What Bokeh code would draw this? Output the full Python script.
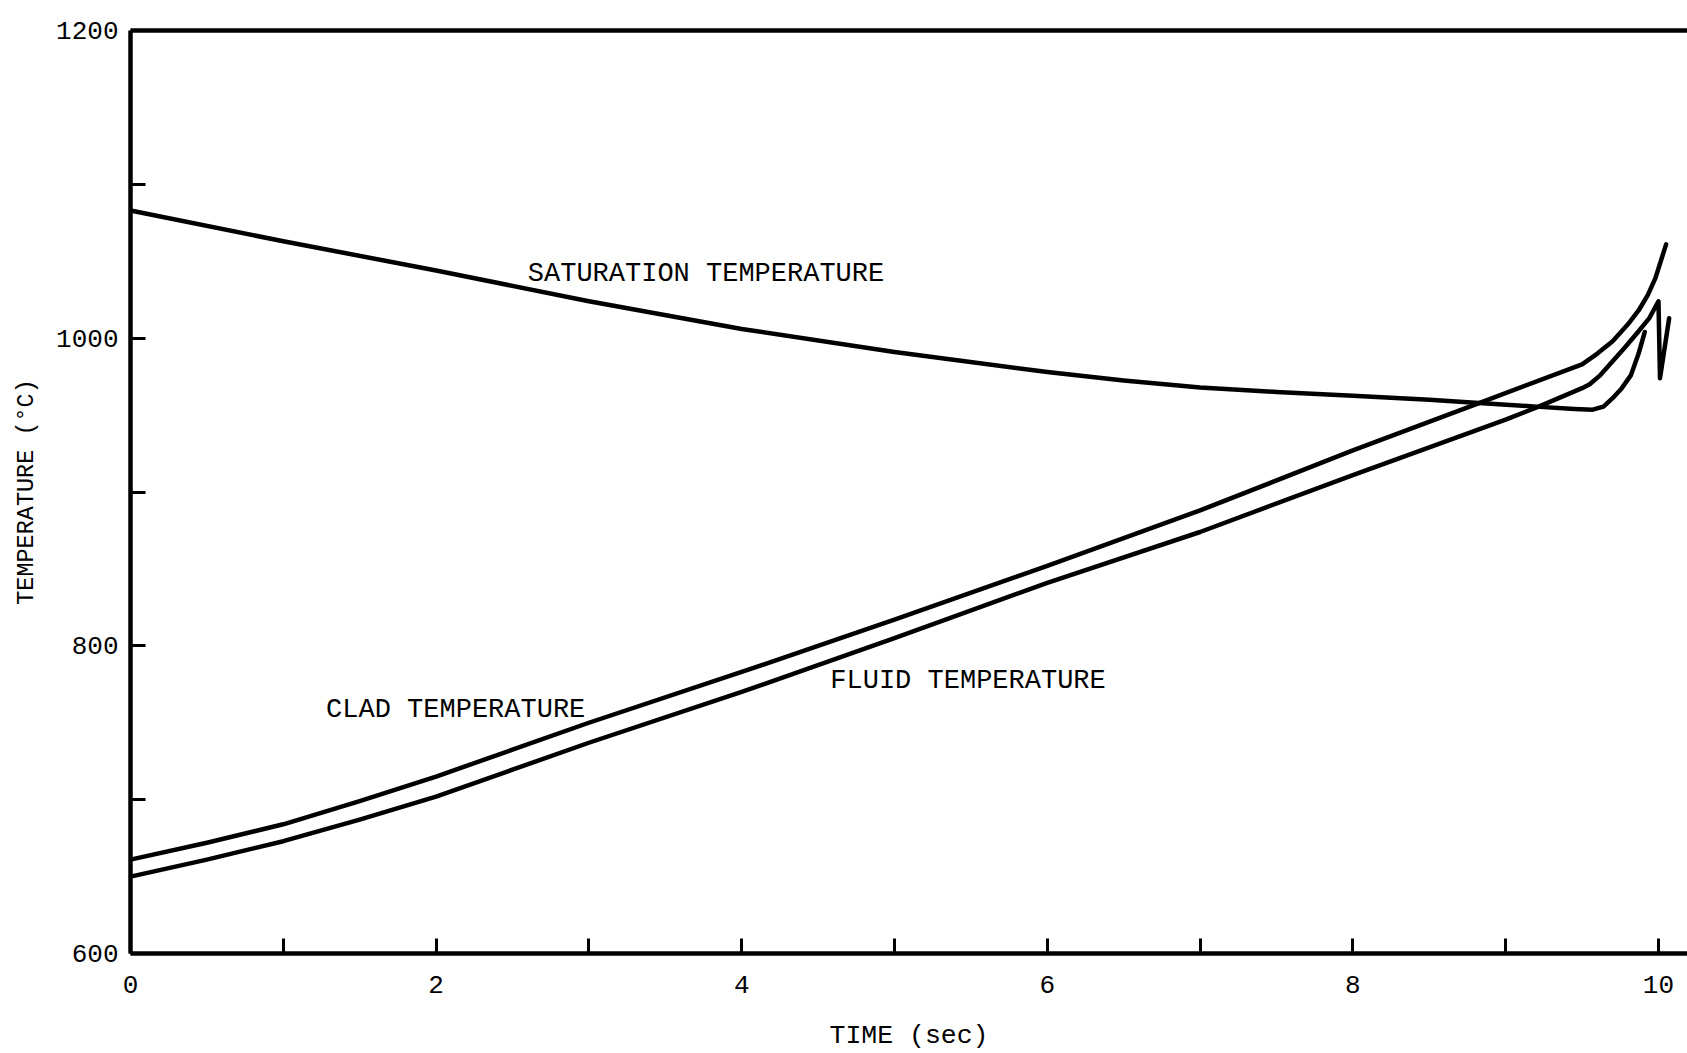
from bokeh.plotting import figure
from bokeh.models import Range1d, LinearAxis, FixedTicker, Label
from bokeh.embed import file_html
from bokeh.resources import INLINE

# Saturation temperature (deg C) versus time (s)
time_sat = [0.0, 1.0, 2.0, 3.0, 4.0, 5.0, 6.0, 6.5, 7.0, 7.5, 8.0, 8.5, 8.8, 9.2,
            9.45, 9.57, 9.64, 9.70, 9.76, 9.82, 9.87, 9.91]
sat_temp = [1083, 1063, 1044, 1024, 1006, 991, 978, 972.5, 968, 965, 962.5, 960, 958,
            955.5, 954, 953.5, 955.5, 961, 967.5, 976, 990, 1004]

# Clad temperature (deg C)
time_clad = [0.0, 0.5, 1.0, 1.5, 2.0, 2.5, 3.0, 4.0, 5.0, 6.0, 7.0, 8.0, 8.83,
             9.5, 9.6, 9.7, 9.8, 9.87, 9.93, 9.98, 10.05]
clad_temp = [661, 672, 684, 699, 715, 732.5, 750, 783, 817, 852, 888, 927, 958,
             983, 990, 998, 1009, 1018, 1028, 1039, 1061]

# Fluid temperature (deg C)
time_fluid = [0.0, 0.5, 1.0, 1.5, 2.0, 2.5, 3.0, 4.0, 5.0, 6.0, 7.0, 8.0, 9.0,
              9.22, 9.5, 9.55, 9.62, 9.70, 9.78, 9.87, 9.94, 10.0, 10.01, 10.07]
fluid_temp = [650, 661, 673, 687, 702, 719.5, 737, 770, 805, 841, 874, 911, 947,
              955.7, 967.5, 970, 976, 985, 994, 1004.5, 1013, 1024, 974, 1013]

x_ticks = [0, 2, 4, 6, 8, 10]
x_minor_ticks = [1, 3, 5, 7, 9]
y_ticks = [600, 800, 1000, 1200]
y_minor_ticks = [700, 900, 1100]

MONO = "Liberation Mono"
INK = "#000000"
LW = 4.5

p = figure(width=1687, height=1053,
           x_range=Range1d(0, 10.19), y_range=Range1d(600, 1200),
           output_backend="svg", toolbar_location=None,
           min_border_left=130, min_border_right=0,
           min_border_top=30, min_border_bottom=100,
           background_fill_color="white", border_fill_color="white")
p.grid.visible = False
p.outline_line_color = None

for ax, ticks, minor in ((p.xaxis[0], x_ticks, x_minor_ticks),
                         (p.yaxis[0], y_ticks, y_minor_ticks)):
    ax.ticker = FixedTicker(ticks=ticks, minor_ticks=minor)
    ax.axis_line_width = LW
    ax.axis_line_color = INK
    ax.major_tick_in = 15
    ax.major_tick_out = 0
    ax.minor_tick_in = 15
    ax.minor_tick_out = 0
    ax.major_tick_line_width = 3
    ax.minor_tick_line_width = 3
    ax.major_tick_line_color = INK
    ax.minor_tick_line_color = INK
    ax.major_label_text_font = MONO
    ax.major_label_text_font_size = "26px"
    ax.major_label_text_color = INK
    ax.axis_label_text_font = MONO
    ax.axis_label_text_font_style = "normal"
    ax.axis_label_text_color = INK

p.xaxis.axis_label = "TIME (sec)"
p.xaxis.axis_label_text_font_size = "26.5px"
p.xaxis.major_label_standoff = 22
p.xaxis.axis_label_standoff = 25

p.yaxis.axis_label = "TEMPERATURE (°C)"
p.yaxis.axis_label_text_font_size = "23.5px"
p.yaxis.major_label_standoff = 12
p.yaxis.axis_label_standoff = 13

# closing rule along the top of the frame
top_rule = LinearAxis(ticker=FixedTicker(ticks=[]), axis_line_width=LW,
                      axis_line_color=INK, major_tick_in=0, major_tick_out=0,
                      minor_tick_in=0, minor_tick_out=0,
                      major_label_text_font_size="0px")
p.add_layout(top_rule, "above")

for xs, ys in ((time_sat, sat_temp), (time_clad, clad_temp), (time_fluid, fluid_temp)):
    p.line(xs, ys, line_color=INK, line_width=LW,
           line_join="round", line_cap="round")

for x, y, txt in ((2.6, 1042, "SATURATION TEMPERATURE"),
                  (1.28, 758, "CLAD TEMPERATURE"),
                  (4.58, 777, "FLUID TEMPERATURE")):
    p.add_layout(Label(x=x, y=y, text=txt, text_font=MONO, text_font_size="27px",
                       text_baseline="middle", text_align="left", text_color=INK))

open("out.html", "w").write(file_html(p, INLINE))
